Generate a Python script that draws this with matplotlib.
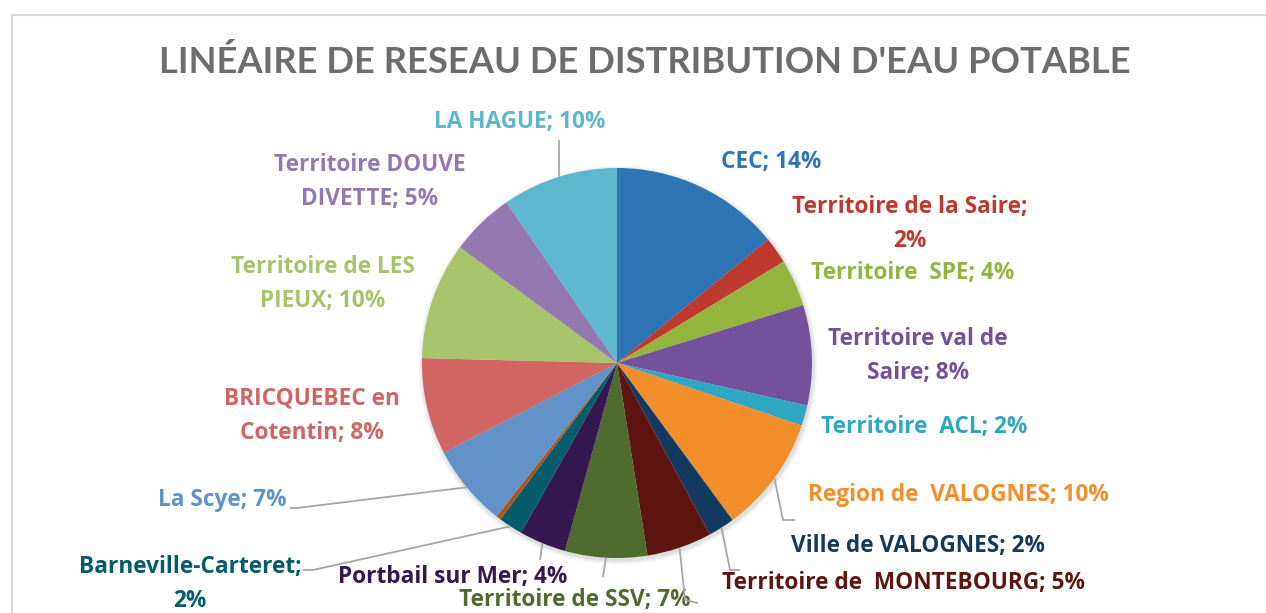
import matplotlib
matplotlib.use("Agg")
import matplotlib.pyplot as plt
from matplotlib.patches import Rectangle, Circle
import numpy as np

# ---- data ----
categories = ["CEC", "Territoire de la Saire", "Territoire  SPE", "Territoire val de Saire",
              "Territoire  ACL", "Region de  VALOGNES", "Ville de VALOGNES",
              "Territoire de  MONTEBOURG", "Territoire de SSV", "Portbail sur Mer",
              "Barneville-Carteret", "Autre", "La Scye", "BRICQUEBEC en Cotentin",
              "Territoire de LES PIEUX", "Territoire DOUVE DIVETTE", "LA HAGUE"]
values = [14.1, 2.2, 3.9, 8.3, 1.7, 9.7, 2.2, 5.4, 6.8, 3.9, 2.0, 0.4, 6.8, 8.0, 9.7, 5.3, 9.6]
label_texts = ["CEC; {p}%", "Territoire de la Saire;\n{p}%", "Territoire  SPE; {p}%",
               "Territoire val de\nSaire; {p}%", "Territoire  ACL; {p}%",
               "Region de  VALOGNES; {p}%", "Ville de VALOGNES; {p}%",
               "Territoire de  MONTEBOURG; {p}%", "Territoire de SSV; {p}%",
               "Portbail sur Mer; {p}%", "Barneville-Carteret;\n{p}%", "",
               "La Scye; {p}%", "BRICQUEBEC en\nCotentin; {p}%",
               "Territoire de LES\nPIEUX; {p}%", "Territoire DOUVE\nDIVETTE; {p}%",
               "LA HAGUE; {p}%"]
colors = ["#2E75B6", "#BE3A2E", "#94B53D", "#76519B", "#2FA8C4", "#F28F2A", "#133A5E",
          "#5E150F", "#4E6B30", "#351850", "#045C6A", "#B0511F", "#6193C8", "#D06562",
          "#A8C46A", "#9479B0", "#5DB7CE"]
title = "LINÉAIRE DE RESEAU DE DISTRIBUTION D'EAU POTABLE"

# ---- layout (pixel space) ----
W, H = 1266, 613
fig = plt.figure(figsize=(W / 100, H / 100), dpi=100)
fig.patch.set_facecolor("white")
ax = fig.add_axes([0, 0, 1, 1])

def Y(y):
    return H - y

cx, cy, R = 617, 363, 195

# outer chart frame
ax.add_patch(Rectangle((12, Y(700)), 1400, 700 - 15, fill=False, ec="#D9D9D9", lw=1.5, zorder=0))

# soft shadow
for i, a in enumerate([0.05, 0.04, 0.03]):
    ax.add_patch(Circle((cx + 1, Y(cy) - 2), R + 1.5 + i * 1.5, color="black", alpha=a, lw=0, zorder=1))

wedges, _ = ax.pie(values, colors=colors, startangle=90, counterclock=False,
                   center=(cx, Y(cy)), radius=R, wedgeprops=dict(linewidth=0, zorder=2))
ax.set_xlim(0, W)
ax.set_ylim(0, H)
ax.set_aspect("equal")
ax.axis("off")

ax.text(645, Y(62), title, ha="center", va="center", fontsize=26.2, fontweight="bold",
        color="#6D6D6D", family="Lato")

total = sum(values)
label_pos = [(771, 162), (910, 224), (913, 273), (918, 356), (924, 427), (958, 495),
             (918, 546), (904, 583), (575, 600), (453, 577), (190, 584), None,
             (222, 500), (312, 416), (323, 284), (370, 182), (520, 122)]

for i, (name, v) in enumerate(zip(categories, values)):
    if label_pos[i] is None or not label_texts[i]:
        continue
    p = int(round(v / total * 100))
    txt = label_texts[i].format(p=p)
    lx, ly = label_pos[i]
    ax.text(lx, Y(ly), txt, ha="center", va="center", fontsize=16.3, fontweight="bold",
            color=colors[i], family="Open Sans", linespacing=1.6, multialignment="center")

# leader lines: start at wedge outer midpoint
leaders = {
    5: [(783, 520), (795, 520)],
    6: [(730, 570), (740, 570)],
    7: [(685, 600), (698, 603)],
    8: [(603, 577)],
    9: [(540, 560)],
    10: [(313, 570), (303, 570)],
    12: [(297, 508), (290, 508)],
    16: [(559, 140)],
}
for i, pts in leaders.items():
    w = wedges[i]
    ang = np.deg2rad((w.theta1 + w.theta2) / 2)
    sx = cx + R * np.cos(ang)
    sy = Y(cy) + R * np.sin(ang)
    xs = [sx] + [p[0] for p in pts]
    ys = [sy] + [Y(p[1]) for p in pts]
    ax.plot(xs, ys, color="#A6A6A6", lw=1.3, zorder=3, solid_capstyle="butt")

fig.savefig("out.png", dpi=100)
